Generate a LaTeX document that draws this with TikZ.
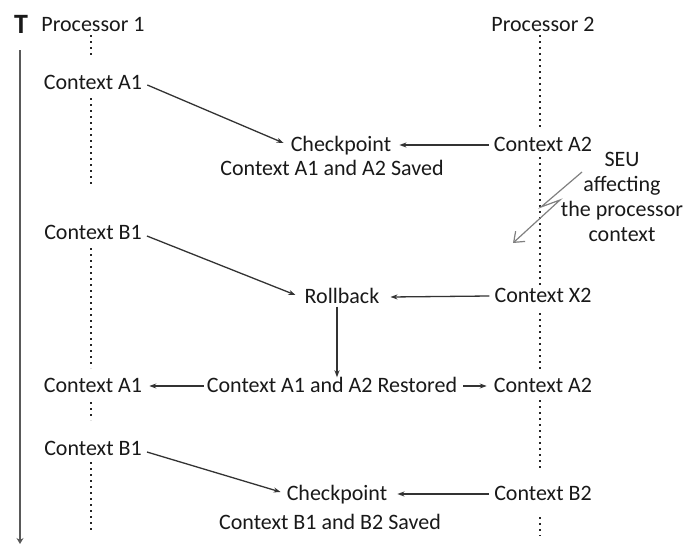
\documentclass[tikz,border=0pt]{standalone}
\usepackage{fontspec}
\setmainfont{Carlito}
\usetikzlibrary{arrows.meta}
\begin{document}
\begin{tikzpicture}[x=1pt,y=-1pt,
  txt/.style={font=\fontsize{22}{25}\selectfont, text=black!90},
  lbl/.style={txt, inner xsep=5pt, inner ysep=1pt, text height=15pt, text depth=2pt},
  flow/.style={draw=black!80, line width=1.3pt, -{Stealth[length=7pt,width=5pt]}},
  lane/.style={draw=black!85, line width=1.7pt, dash pattern=on 1.7pt off 4.3pt},
  timeaxis/.style={draw=black!65, line width=2.2pt, -{Stealth[length=6pt,width=7pt]}},
  bolt/.style={draw=black!50, line width=1.2pt, line join=miter,
               -{Straight Barb[length=9pt,width=14pt,line width=1.2pt]}},
]
\useasboundingbox (0,0) rectangle (686,546);

% headers
\node[txt, font=\fontsize{28}{30}\selectfont\bfseries, inner sep=0pt] (T) at (21,24) {T};
\node[lbl] (p1) at (93,25) {Processor 1};
\node[lbl] (p2) at (543,25) {Processor 2};

% time axis
\coordinate (t0) at (20,50);
\coordinate (t1) at (20,544);
\draw[timeaxis] (t0) -- (t1);

% processor lanes (dotted)
\foreach \a/\b in {35/55, 98/186, 248/368, 402/420, 462/532}
  \draw[lane] (91,\a) -- (91,\b);
\foreach \a/\b in {35/130, 157/287, 313/372, 400/471, 517/536}
  \draw[lane] (540,\a) -- (540,\b);

% first checkpoint
\node[lbl] (a1) at (93,83) {Context A1};
\node[lbl] (cp1) at (341,145) {Checkpoint};
\node[lbl] (a2) at (543,145) {Context A2};
\node[lbl] (sv1) at (332,169) {Context A1 and A2 Saved};
\draw[flow] ([yshift=-2pt]a1.east) -- ([xshift=-2pt,yshift=2pt]cp1.west);
\draw[flow] (a2.west) -- ([xshift=3pt]cp1.east);

% upset on processor 2
\node[txt, align=center, inner sep=0pt] (seu) at (622,197)
  {SEU\\affecting\\the processor\\context};
\coordinate (z1) at (582,172);
\coordinate (z2) at (541,207);
\coordinate (z3) at (560,200);
\coordinate (z4) at (513,243);
\draw[bolt] (z1) -- (z2) -- (z3) -- (z4);

% rollback
\node[lbl] (b1) at (93,233) {Context B1};
\node[lbl] (rb) at (342,297) {Rollback};
\node[lbl] (x2) at (543,296) {Context X2};
\draw[flow] ([yshift=-3pt]b1.east) -- ([xshift=-4pt,yshift=2pt]rb.west);
\draw[flow] (x2.west) -- ([xshift=6pt]rb.east);

% restore
\node[lbl] (a1r) at (93,386) {Context A1};
\node[lbl] (rs) at (332,386) {Context A1 and A2 Restored};
\node[lbl] (a2r) at (543,386) {Context A2};
\draw[flow] ([xshift=-5pt]rb.south) -- ([xshift=5pt,yshift=-1pt]rs.north);
\draw[flow] ([xshift=2pt]rs.west) -- ([xshift=2pt]a1r.east);
\draw[flow] ([xshift=1pt]rs.east) -- ([xshift=-2pt]a2r.west);

% second checkpoint
\node[lbl] (b1b) at (93,449) {Context B1};
\node[lbl] (cp2) at (337,494) {Checkpoint};
\node[lbl] (b2) at (543,494) {Context B2};
\node[lbl] (sv2) at (330,523) {Context B1 and B2 Saved};
\draw[flow] ([yshift=-3pt]b1b.east) -- ([xshift=-1pt,yshift=2pt]cp2.west);
\draw[flow] (b2.west) -- ([xshift=5pt]cp2.east);
\end{tikzpicture}
\end{document}
